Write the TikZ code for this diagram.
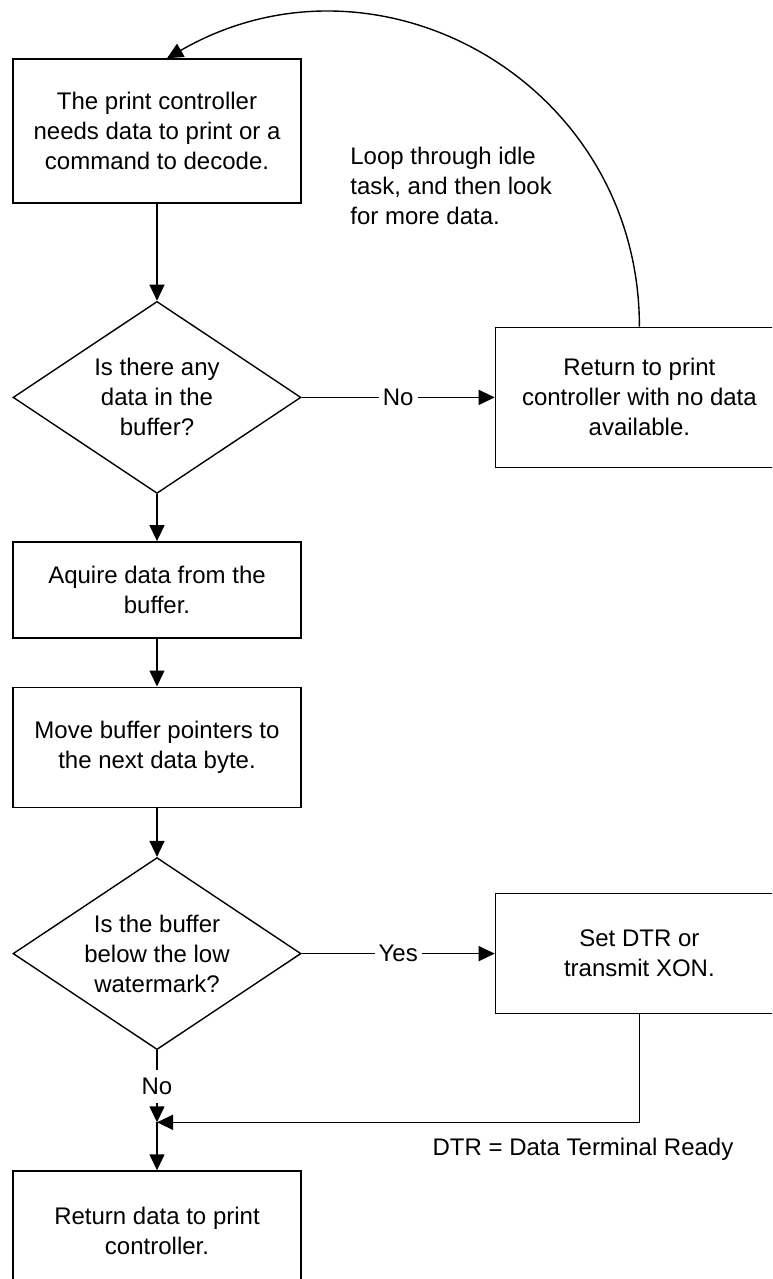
\documentclass[tikz,border=0pt]{standalone}
\usepackage{fontspec}
\setmainfont{Liberation Sans}
\usetikzlibrary{positioning,shapes.geometric,arrows.meta}
\tikzstyle{block} = [draw, rectangle, minimum width=144pt, inner sep=0pt, align=center, line width=0.7pt]
\tikzstyle{decision} = [draw, diamond, minimum width=144pt, minimum height=96pt, shape aspect=1.5, inner sep=0pt, align=center, line width=0.7pt]
\tikzstyle{arrow} = [line width=0.7pt, -{Triangle[length=8pt,width=7.5pt]}]
\tikzstyle{tag} = [midway, fill=white, inner xsep=2pt, inner ysep=4pt]
\tikzstyle{note} = [align=left, inner sep=0pt]

\begin{document}
\begin{tikzpicture}[x=0.5pt, y=0.5pt, font=\fontsize{12}{15}\selectfont]

    \clip (0,0) rectangle (772,-1279);

    \node[block, minimum height=72pt                    ] (b1) at (157,-131) {The print controller\\needs data to print or a\\command to decode.};
    \node[decision,                   below=48.5pt of b1] (d1) {Is there any\\data in the\\buffer?};
    \node[block, minimum height=70pt, right=96.5pt of d1] (b2) {Return to print\\controller with no data\\available.};
    \node[block, minimum height=48pt, below=23.5pt of d1] (b3) {Aquire data from the\\buffer.};
    \node[block, minimum height=60pt, below=24pt of b3  ] (b4) {Move buffer pointers to\\the next data byte.};
    \node[decision,                   below=24.5pt of b4] (d2) {Is the buffer\\below the low\\watermark?};
    \node[block, minimum height=60pt, right=96.5pt of d2] (b5) {Set DTR or\\transmit XON.};
    \coordinate[below=36pt of d2] (j);
    \node[block, minimum height=60pt, below=24pt of j   ] (b6) {Return data to print\\controller.};

    \node[note, anchor=west] (loop) at (350,-186) {Loop through idle\\task, and then look\\for more data.};
    \node (dtr) at (583,-1149) {DTR = Data Terminal Ready};

    \draw[arrow] (b1) -- (d1);
    \draw[arrow] (d1) -- (b2) node[tag] {No};
    \draw[arrow] (b2.north) to[out=90, in=30, looseness=1.15] ([xshift=5pt]b1.north);
    \draw[arrow] (d1) -- (b3);
    \draw[arrow] (b3) -- (b4);
    \draw[arrow] (b4) -- (d2);
    \draw[arrow] (d2) -- (b5) node[tag] {Yes};
    \draw[arrow] (d2) -- (j) node[tag] {No};
    \draw[arrow] (b5) |- (j);
    \draw[arrow] (j) -- (b6);

\end{tikzpicture}
\end{document}
